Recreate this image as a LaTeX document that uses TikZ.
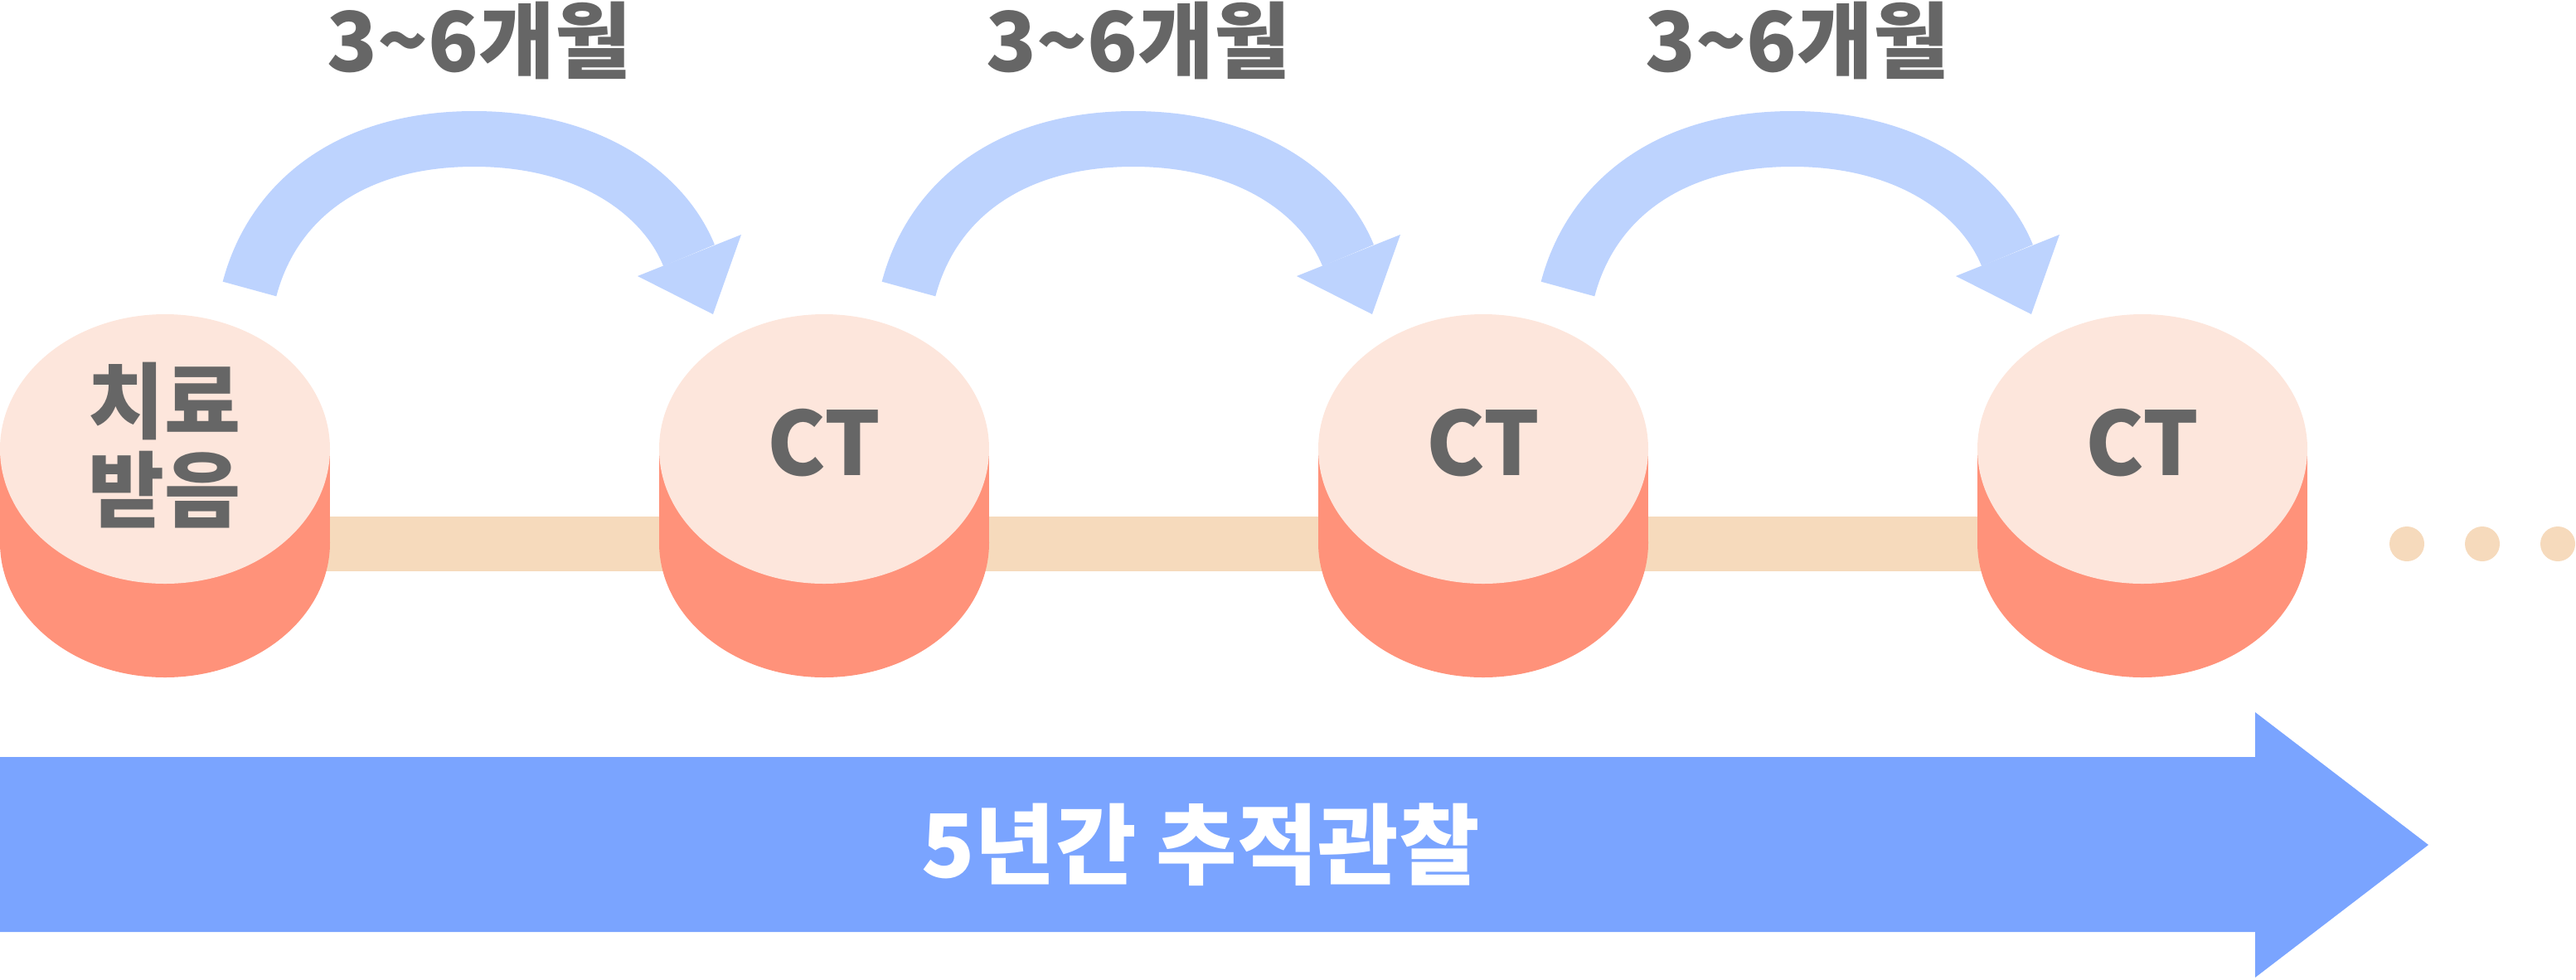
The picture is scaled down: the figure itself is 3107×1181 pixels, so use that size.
\documentclass[tikz,border=0pt]{standalone}
\usepackage{fontspec}
\setmainfont{Noto Sans CJK KR}
\definecolor{cylTop}{HTML}{FDE6DC}
\definecolor{cylSide}{HTML}{FF927A}
\definecolor{bandC}{HTML}{F6DABC}
\definecolor{arcBlue}{HTML}{BDD3FE}
\definecolor{bigBlue}{HTML}{7AA4FF}
\definecolor{txtGray}{HTML}{666666}
\begin{document}
\begin{tikzpicture}[x=0.25pt,y=-0.25pt,
  lbl/.style={font=\bfseries\fontsize{25pt}{26.75pt}\selectfont, text=txtGray, inner sep=0pt},
  ctlbl/.style={lbl, font=\bfseries\fontsize{26.5pt}{28pt}\selectfont},
  arcarrow/.style={draw=arcBlue, line width=16.75pt},
  cylside/.style={fill=cylSide},
  cyltop/.style={fill=cylTop},
  dotC/.style={fill=bandC}]
\useasboundingbox (0,0) rectangle (3107,1181);
% band behind cylinders
\fill[bandC] (199,623) rectangle (2584,689);
% cylinders
\foreach \cx in {199,994,1789,2584} {
  \fill[cylside] (\cx-199,541.5) rectangle (\cx+199,654.5);
  \fill[cylside] (\cx,654.5) ellipse [x radius=49.75pt, y radius=40.625pt];
  \fill[cyltop] (\cx,541.5) ellipse [x radius=49.75pt, y radius=40.625pt];
}
% cylinder labels
\node[lbl, align=center] (n1) at (199,537) {치료\\받음};
\node[ctlbl] (n2) at (994,534) {CT};
\node[ctlbl] (n3) at (1789,534) {CT};
\node[ctlbl] (n4) at (2584,534) {CT};
% dots
\foreach \dx in {2903,2994,3085} {
  \fill[dotC] (\dx,656) circle [radius=5.25pt];
}
% curved arrows and labels
\foreach \k in {0,1,2} {
  \begin{scope}[shift={(\k*795,0)}]
    \coordinate (s\k) at (301,348.5);
    \coordinate (e\k) at (831,308);
    \draw[arcarrow] (s\k) .. controls (329,242) and (422,167.5) .. (572,167.5)
                          .. controls (712,167.5) and (801,234) .. (e\k);
    \fill[arcBlue] (894,283) -- (860,379) -- (769,333) -- cycle;
    \node[lbl, anchor=base] (t\k) at (578,86) {3\textasciitilde6개월};
  \end{scope}
}
% big arrow
\fill[bigBlue] (0,913) -- (2720,913) -- (2720,859) -- (2929,1019) -- (2720,1179) -- (2720,1124) -- (0,1124) -- cycle;
\node[font=\bfseries\fontsize{26.5pt}{28pt}\selectfont, text=white, inner sep=0pt] (b) at (1448,1019) {5년간 추적관찰};
\end{tikzpicture}
\end{document}
